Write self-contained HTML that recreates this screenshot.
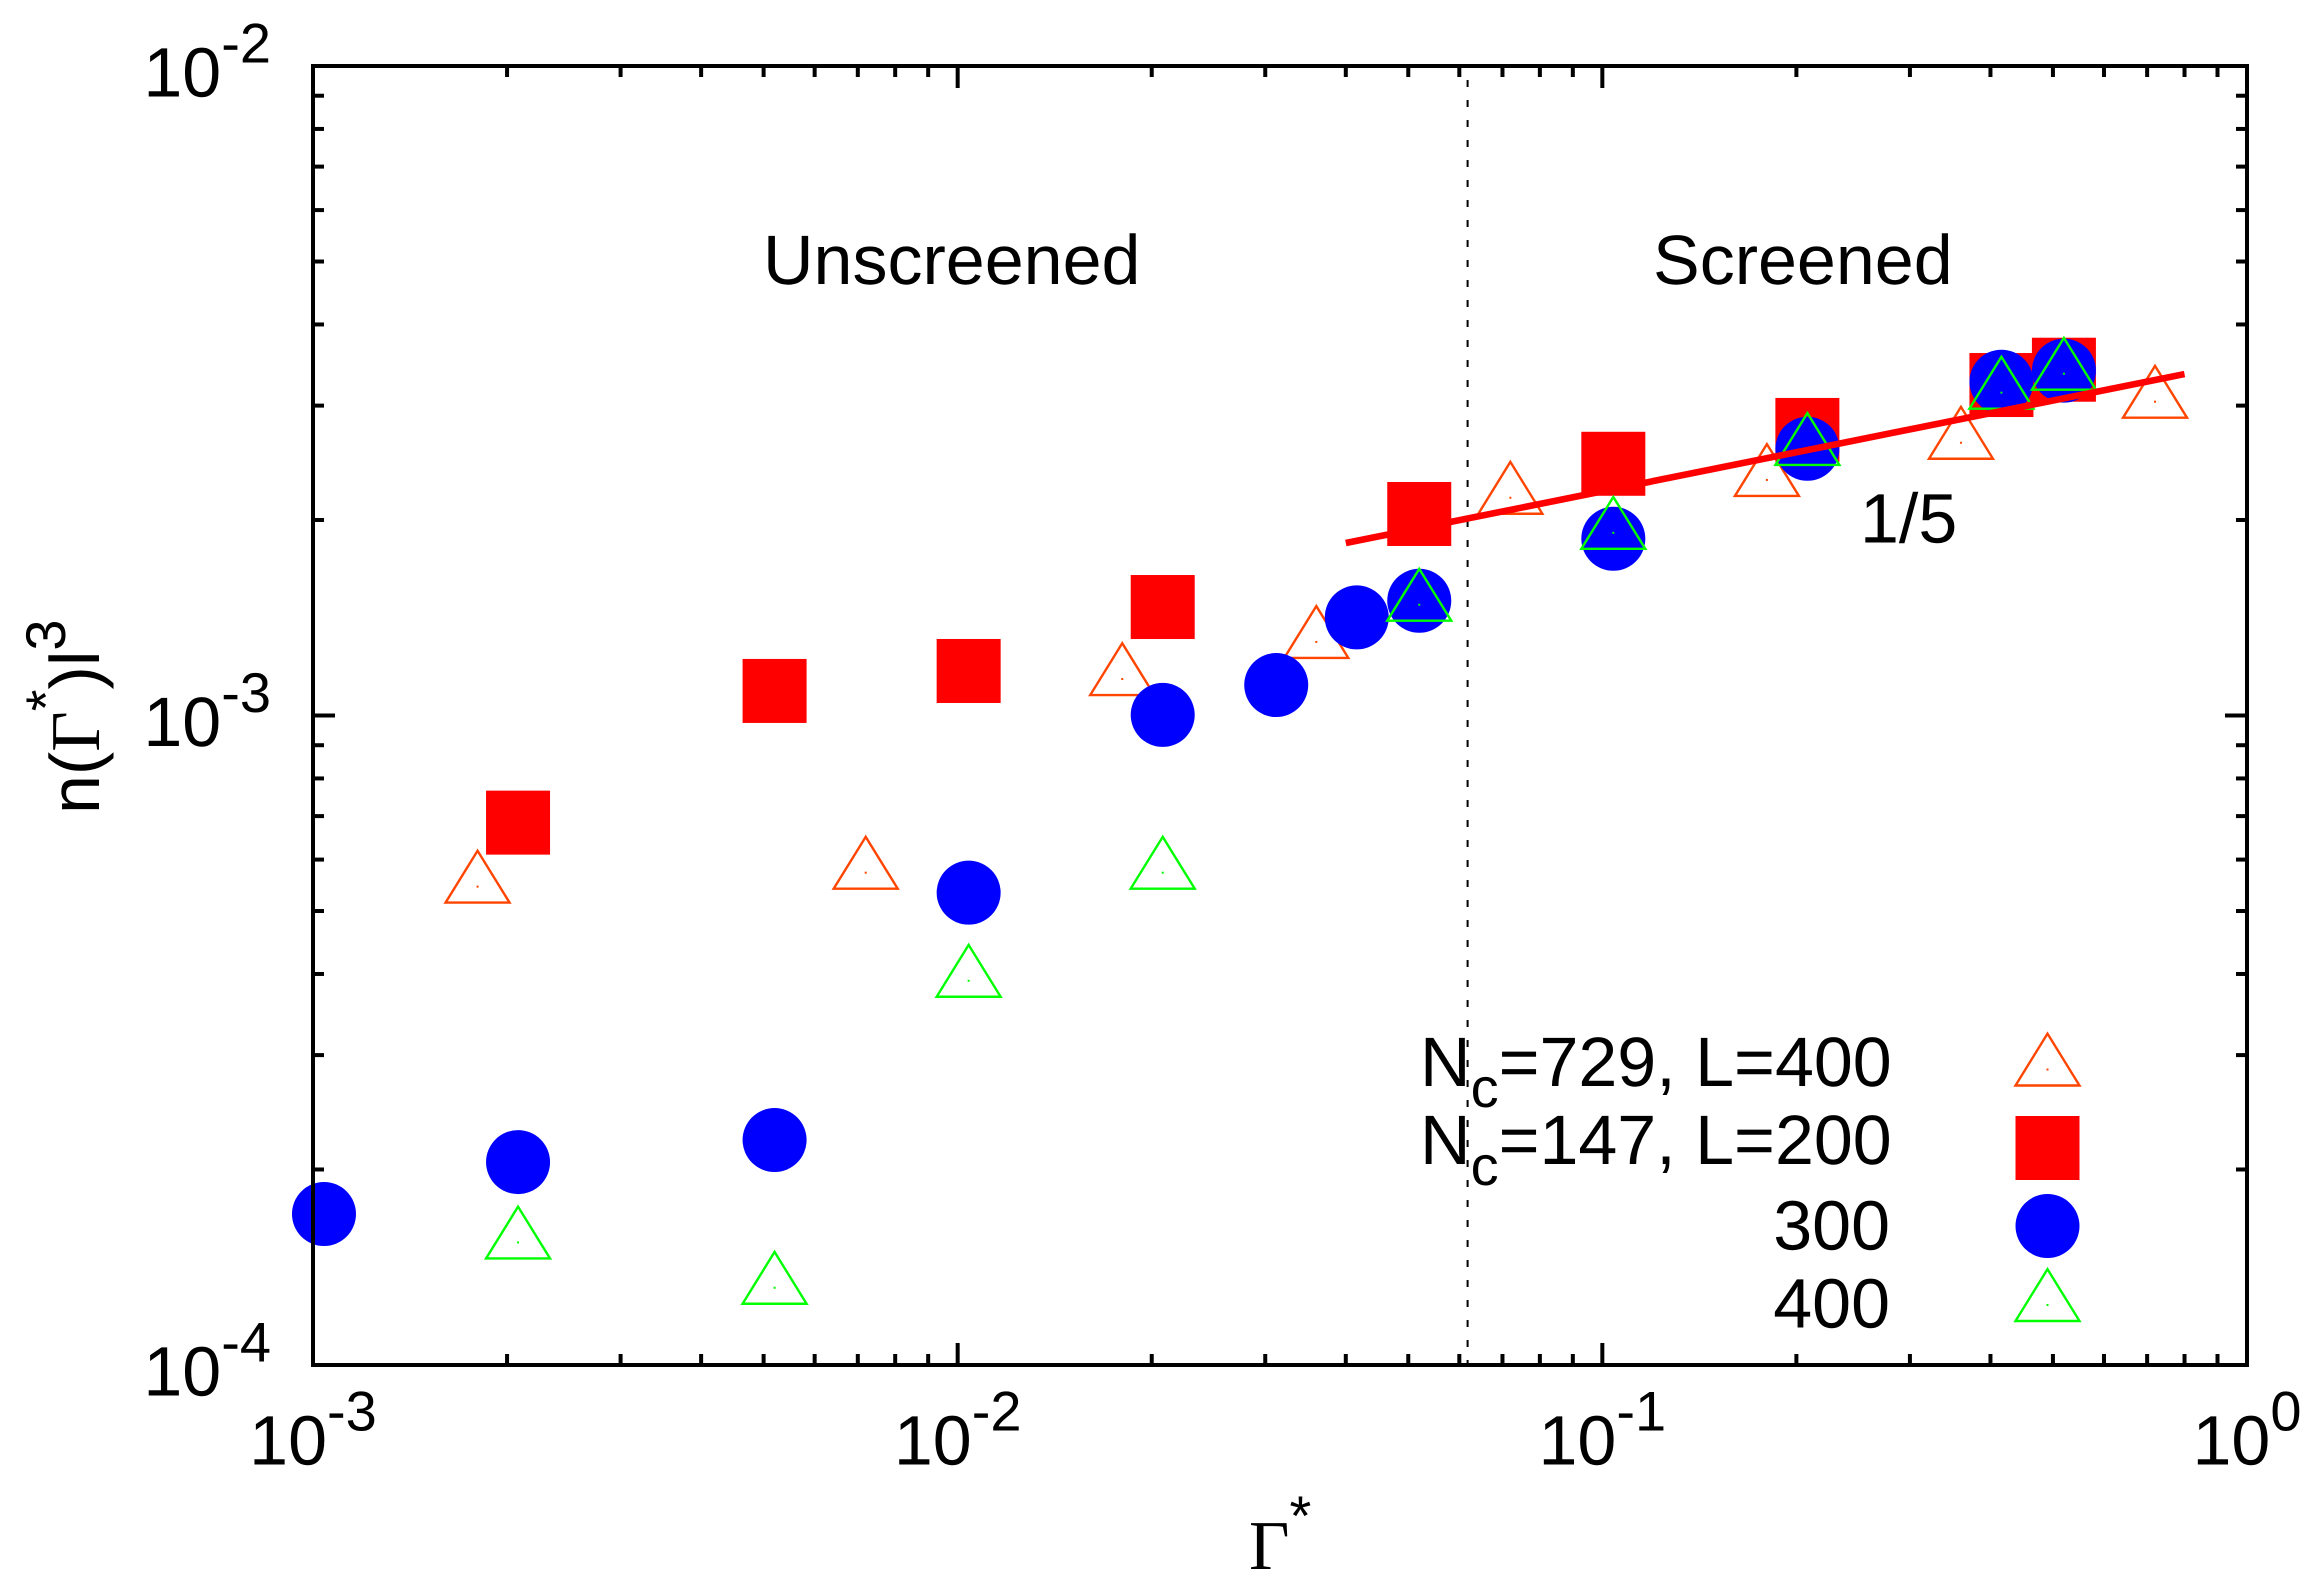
<!DOCTYPE html>
<html lang="en">
<head>
<meta charset="utf-8">
<title>n(Γ*)l³ versus Γ* log-log chart</title>
<style>
  html, body { margin: 0; padding: 0; background: #ffffff; }
  svg { display: block; }
  text { font-family: "Liberation Sans", sans-serif; font-size: 70px; fill: #000000; font-kerning: none; text-rendering: geometricPrecision; }
  .sup { font-size: 56px; }
  .greek { font-family: "Liberation Serif", serif; }
</style>
</head>
<body>
<svg id="chart" xmlns="http://www.w3.org/2000/svg" width="2323" height="1589" viewBox="0 0 2323 1589">
  <rect x="0" y="0" width="2323" height="1589" fill="#ffffff"/>
  <g id="grid-ticks"></g>
  <g id="vline-layer"></g>
  <g id="marks"></g>
  <g id="fit-layer"></g>
  <rect id="frame" fill="none" stroke="#000000" stroke-width="4"/>
  <g id="tick-labels"></g>

  <text x="763" y="284">Unscreened</text>
  <text x="1653" y="284">Screened</text>
  <text x="1860" y="542.5">1/5</text>

  <text x="1249" y="1569"><tspan class="greek">Γ</tspan><tspan class="sup" dy="-34">*</tspan></text>
  <text transform="translate(99,814) rotate(-90)">n(<tspan class="greek">Γ</tspan><tspan class="sup" dy="-34">*</tspan><tspan dy="34">)l</tspan><tspan class="sup" dy="-34">3</tspan></text>

  <g>
    <text x="1420" y="1086">N<tspan class="sup" dy="21">c</tspan><tspan dy="-21">=729, L=400</tspan></text>
    <text x="1420" y="1164">N<tspan class="sup" dy="21">c</tspan><tspan dy="-21">=147, L=200</tspan></text>
    <text x="1890" y="1249.5" text-anchor="end">300</text>
    <text x="1890" y="1327.5" text-anchor="end">400</text>
    <g id="legend-symbols"></g>
  </g>
</svg>
<script>
// ---- data ----
const orangeX = [0.0018, 0.0072, 0.018, 0.036, 0.072, 0.18, 0.36, 0.72];
const orangeY = [5.452e-4, 5.728e-4, 1.138e-3, 1.298e-3, 2.164e-3, 2.305e-3, 2.63e-3, 3.042e-3];
const redX = [0.00208, 0.0052, 0.0104, 0.0208, 0.052, 0.104, 0.208, 0.416, 0.52];
const redY = [6.84e-4, 1.091e-3, 1.171e-3, 1.469e-3, 2.043e-3, 2.441e-3, 2.752e-3, 3.227e-3, 3.407e-3];
const blueX = [0.00104, 0.00208, 0.0052, 0.0104, 0.0208, 0.0312, 0.0416, 0.052, 0.104, 0.208, 0.416, 0.52];
const blueY = [1.708e-4, 2.053e-4, 2.22e-4, 5.336e-4, 1.002e-3, 1.114e-3, 1.416e-3, 1.502e-3, 1.871e-3, 2.574e-3, 3.265e-3, 3.396e-3];
const greenX = [0.00208, 0.0052, 0.0104, 0.0208, 0.052, 0.104, 0.208, 0.416, 0.52];
const greenY = [1.544e-4, 1.315e-4, 3.905e-4, 5.728e-4, 1.481e-3, 1.911e-3, 2.573e-3, 3.141e-3, 3.359e-3];
const fitX = [0.04, 0.8];
const fitY = [1.843e-3, 3.355e-3];
const dividerX = [0.0618];
const xExponents = [-3, -2, -1, 0];
const yExponents = [-4, -3, -2];
const xTickLabels = ['-3', '-2', '-1', '0'];
const yTickLabels = ['-4', '-3', '-2'];
const minorMultipliers = [2, 3, 4, 5, 6, 7, 8, 9];

// ---- axis functions ----
const LEFT = 313, RIGHT = 2247, TOP = 66, BOTTOM = 1365;
const X_MIN = -3, X_MAX = 0, Y_MIN = -4, Y_MAX = -2;
function xPos(v) { return LEFT + (Math.log10(v) - X_MIN) / (X_MAX - X_MIN) * (RIGHT - LEFT); }
function yPos(v) { return BOTTOM - (Math.log10(v) - Y_MIN) / (Y_MAX - Y_MIN) * (BOTTOM - TOP); }

const NS = 'http://www.w3.org/2000/svg';
function make(parent, tag, attrs) {
  const el = document.createElementNS(NS, tag);
  for (const k in attrs) { el.setAttribute(k, attrs[k]); }
  parent.appendChild(el);
  return el;
}

const frame = document.getElementById('frame');
frame.setAttribute('x', LEFT);
frame.setAttribute('y', TOP);
frame.setAttribute('width', RIGHT - LEFT);
frame.setAttribute('height', BOTTOM - TOP);

// ---- ticks ----
const tickGroup = document.getElementById('grid-ticks');
function xTick(value, len) {
  const x = xPos(value);
  const b = make(tickGroup, 'line', { x1: x, x2: x, y1: BOTTOM, y2: BOTTOM - len, stroke: '#000', 'stroke-width': 4 });
  
  
  const t = make(tickGroup, 'line', { x1: x, x2: x, y1: TOP, y2: TOP + len, stroke: '#000', 'stroke-width': 4 });
  
  
}
function yTick(value, len) {
  const y = yPos(value);
  const l = make(tickGroup, 'line', { x1: LEFT, x2: LEFT + len, y1: y, y2: y, stroke: '#000', 'stroke-width': 4 });
  
  
  const r = make(tickGroup, 'line', { x1: RIGHT, x2: RIGHT - len, y1: y, y2: y, stroke: '#000', 'stroke-width': 4 });
  
  
}
xExponents.forEach(function (e, i) {
  xTick(Math.pow(10, e), 22);
  if (i < xExponents.length - 1) {
    minorMultipliers.forEach(function (m) { xTick(m * Math.pow(10, e), 11); });
  }
});
yExponents.forEach(function (e, i) {
  yTick(Math.pow(10, e), 22);
  if (i < yExponents.length - 1) {
    minorMultipliers.forEach(function (m) { yTick(m * Math.pow(10, e), 11); });
  }
});

// ---- tick labels ----
const labelGroup = document.getElementById('tick-labels');
function powerLabel(x, y, anchor, exponent, name) {
  const t = make(labelGroup, 'text', { x: x, y: y, 'text-anchor': anchor });
  
  
  const base = make(t, 'tspan', {});
  base.textContent = '10';
  const sup = make(t, 'tspan', { class: 'sup', dy: -34 });
  sup.textContent = exponent;
}
xExponents.forEach(function (e, i) {
  powerLabel(xPos(Math.pow(10, e)), 1464.5, 'middle', xTickLabels[i], 'x-tick-label');
});
yExponents.forEach(function (e, i) {
  powerLabel(271, yPos(Math.pow(10, e)) + 30.5, 'end', yTickLabels[i], 'y-tick-label');
});

// ---- markers ----
const HALF = 32;
function triangle(parent, cx, cy, color, name) {
  const p = make(parent, 'path', {
    d: 'M' + cx + ' ' + (cy - 1.12 * HALF) + 'L' + (cx - HALF) + ' ' + (cy + 0.5 * HALF) + 'L' + (cx + HALF) + ' ' + (cy + 0.5 * HALF) + 'Z',
    fill: 'none', stroke: color, 'stroke-width': 2.4
  });
  
  
  const d = make(parent, 'rect', { x: cx - 1, y: cy - 1, width: 2, height: 2, fill: color });
  
  
}
function square(parent, cx, cy, color, name) {
  const r = make(parent, 'rect', { x: cx - HALF, y: cy - HALF, width: 2 * HALF, height: 2 * HALF, fill: color });
  
  
}
function circle(parent, cx, cy, color, name) {
  const c = make(parent, 'circle', { cx: cx, cy: cy, r: HALF, fill: color });
  
  
}

// ---- divider ----
const vLayer = document.getElementById('vline-layer');
const divider = make(vLayer, 'line', {
  x1: xPos(dividerX[0]), x2: xPos(dividerX[0]), y1: TOP, y2: BOTTOM,
  stroke: '#000', 'stroke-width': 2, 'stroke-dasharray': '7 13', 'stroke-dashoffset': 6
});



// ---- series ----
const marks = document.getElementById('marks');
orangeX.forEach(function (x, i) { triangle(marks, xPos(x), yPos(orangeY[i]), '#ff4500', 'point-nc729-l400'); });
redX.forEach(function (x, i) { square(marks, xPos(x), yPos(redY[i]), '#ff0000', 'point-nc147-l200'); });
blueX.forEach(function (x, i) { circle(marks, xPos(x), yPos(blueY[i]), '#0000ff', 'point-l300'); });
greenX.forEach(function (x, i) { triangle(marks, xPos(x), yPos(greenY[i]), '#00ff00', 'point-l400'); });

// ---- fit line ----
const fitLine = make(document.getElementById('fit-layer'), 'line', {
  x1: xPos(fitX[0]), y1: yPos(fitY[0]), x2: xPos(fitX[1]), y2: yPos(fitY[1]),
  stroke: '#ff0000', 'stroke-width': 6.6
});



// ---- legend symbols ----
const legendGroup = document.getElementById('legend-symbols');
triangle(legendGroup, 2047.5, 1069.5, '#ff4500', 'legend-symbol-nc729');
square(legendGroup, 2047.5, 1148, '#ff0000', 'legend-symbol-nc147');
circle(legendGroup, 2047.5, 1226, '#0000ff', 'legend-symbol-300');
triangle(legendGroup, 2047.5, 1305, '#00ff00', 'legend-symbol-400');
</script>
</body>
</html>
